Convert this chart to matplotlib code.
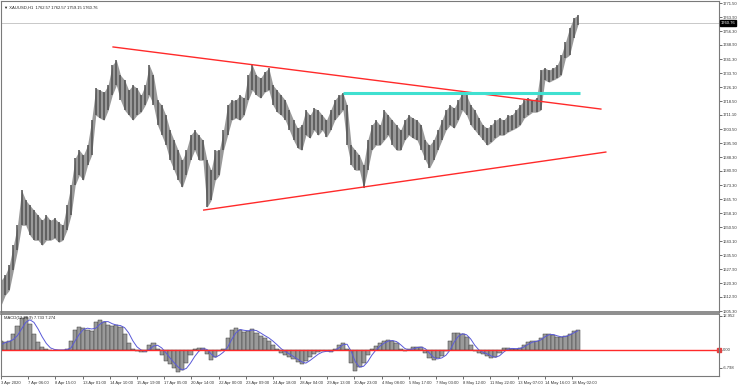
import matplotlib
matplotlib.use("Agg")
import matplotlib.pyplot as plt
import numpy as np

plt.rcParams["font.family"] = ["Liberation Sans", "DejaVu Sans"]

# ---------------- data ----------------
# Price samples (one every 5 H1 bars): high / low
bar_step = 5
highs = [1621.9, 1624.6, 1630.0, 1640.8, 1651.6, 1670.5, 1665.1, 1662.4, 1659.7, 1657.0,
         1654.3, 1657.0, 1654.3, 1655.4, 1653.2, 1651.6, 1662.4, 1673.2, 1687.8, 1692.1,
         1689.4, 1694.8, 1708.3, 1725.6, 1724.5, 1723.4, 1727.2, 1738.0, 1740.7, 1732.6,
         1729.9, 1724.5, 1727.2, 1725.6, 1721.8, 1727.2, 1738.0, 1732.6, 1719.1, 1716.4,
         1711.0, 1702.9, 1697.5, 1692.1, 1686.7, 1692.1, 1700.2, 1702.9, 1700.2, 1697.5,
         1686.7, 1681.3, 1692.1, 1692.1, 1702.9, 1716.4, 1719.1, 1719.1, 1721.8, 1720.2,
         1732.6, 1738.0, 1732.6, 1731.0, 1734.3, 1736.4, 1727.2, 1724.5, 1721.8, 1719.1,
         1713.7, 1708.3, 1704.0, 1705.6, 1713.7, 1711.0, 1714.8, 1713.7, 1711.0, 1708.3,
         1713.7, 1719.1, 1721.8, 1722.9, 1716.4, 1694.8, 1692.1, 1689.4, 1684.0, 1697.5,
         1705.6, 1708.3, 1705.6, 1713.7, 1711.0, 1708.3, 1705.6, 1702.9, 1708.3, 1711.0,
         1709.4, 1708.3, 1705.6, 1697.5, 1694.8, 1697.5, 1702.9, 1708.3, 1713.7, 1716.4,
         1714.8, 1719.1, 1723.4, 1721.8, 1716.4, 1713.7, 1709.4, 1705.6, 1704.0, 1705.6,
         1708.3, 1709.4, 1708.3, 1711.0, 1711.0, 1713.7, 1716.4, 1719.1, 1720.2, 1719.1,
         1720.2, 1735.3, 1736.4, 1735.3, 1736.4, 1738.0, 1743.4, 1750.4, 1758.0, 1763.4,
         1765.0]
lows = [1608.4, 1613.8, 1616.5, 1627.3, 1638.1, 1651.6, 1651.6, 1646.2, 1643.5, 1643.5,
        1640.8, 1643.5, 1643.5, 1644.6, 1642.4, 1643.5, 1648.9, 1657.0, 1673.2, 1678.6,
        1675.9, 1684.0, 1689.4, 1711.0, 1709.4, 1708.3, 1713.7, 1721.8, 1727.2, 1719.1,
        1713.7, 1711.0, 1708.3, 1711.0, 1712.6, 1716.4, 1721.8, 1716.4, 1705.6, 1700.2,
        1694.8, 1686.7, 1681.3, 1675.9, 1672.1, 1678.6, 1686.7, 1692.1, 1686.7, 1686.7,
        1661.3, 1665.1, 1675.9, 1678.6, 1692.1, 1700.2, 1708.3, 1709.4, 1708.3, 1711.0,
        1719.1, 1724.5, 1721.8, 1720.2, 1723.4, 1724.5, 1716.4, 1712.6, 1711.0, 1708.3,
        1702.9, 1697.5, 1693.2, 1692.1, 1700.2, 1698.6, 1702.9, 1700.2, 1702.9, 1699.1,
        1702.9, 1708.3, 1711.0, 1713.7, 1694.8, 1684.0, 1681.3, 1681.3, 1671.6, 1681.3,
        1692.1, 1694.8, 1694.8, 1697.5, 1700.2, 1694.8, 1692.1, 1692.1, 1697.5, 1700.2,
        1698.6, 1697.5, 1692.1, 1686.7, 1682.4, 1686.7, 1692.1, 1697.5, 1702.9, 1705.6,
        1704.0, 1708.3, 1713.7, 1711.0, 1705.6, 1702.9, 1700.2, 1697.5, 1694.8, 1696.4,
        1698.6, 1700.2, 1700.2, 1701.8, 1702.9, 1704.0, 1705.6, 1709.4, 1711.0, 1712.6,
        1712.6, 1713.7, 1729.9, 1728.8, 1729.9, 1731.0, 1732.6, 1741.8, 1743.4, 1752.6,
        1759.6]

# MACD histogram and signal line (same sampling)
macd_hist = [3.4, 3.0, 3.5, 6.0, 9.0, 12.2, 12.4, 10.0, 6.0, 3.0,
             1.2, 0.3, 0.1, 0.1, 0.0, 0.1, 0.2, 3.5, 7.5, 8.8,
             8.5, 7.8, 7.2, 10.5, 11.4, 10.8, 9.5, 9.0, 9.6, 8.8,
             6.0, 2.5, 0.3, -0.5, -0.8, -0.6, 2.0, 2.6, 0.5, -2.0,
             -4.0, -5.5, -7.0, -8.2, -7.8, -5.0, -2.0, 0.3, 0.8, 0.7,
             -1.5, -3.8, -2.5, -0.5, 0.5, 4.5, 7.8, 8.4, 7.5, 6.8,
             7.2, 8.0, 6.5, 5.2, 4.6, 3.5, 2.0, 0.3, -1.0, -1.8,
             -2.8, -3.5, -4.5, -5.5, -4.0, -2.5, -1.5, -0.6, -0.2, -0.4,
             -0.6, 0.5, 2.0, 2.8, 0.5, -5.0, -8.0, -6.5, -5.0, -2.0,
             0.5, 1.5, 2.5, 3.6, 3.8, 3.5, 2.5, 0.5, -0.5, 0.3,
             1.0, 1.2, 1.0, -1.0, -3.0, -3.8, -3.2, -2.2, -0.5, 3.5,
             6.3, 6.4, 6.2, 5.0, 2.0, -0.5, -1.0, -1.4, -2.2, -3.0,
             -2.8, -1.0, 0.8, 0.6, 0.3, 0.5, 0.8, 2.0, 3.0, 3.5,
             3.3, 4.5, 6.2, 6.0, 5.6, 5.0, 4.8, 5.5, 6.2, 7.2,
             7.7]
macd_signal = [2.0, 2.8, 3.2, 4.0, 5.5, 8.0, 10.5, 11.5, 10.5, 8.0,
               5.0, 2.5, 0.8, 0.2, 0.0, 0.0, 0.1, 0.8, 3.5, 6.0,
               7.8, 8.3, 8.0, 8.3, 9.8, 10.8, 10.8, 10.0, 9.5, 9.3,
               8.5, 6.5, 3.5, 1.2, 0.0, -0.5, 0.2, 1.5, 1.8, 0.8,
               -1.0, -3.0, -4.8, -6.5, -7.6, -7.0, -5.0, -2.5, -0.5, 0.5,
               0.2, -1.5, -2.8, -2.0, -0.8, 1.0, 4.0, 6.5, 7.8, 7.5,
               7.3, 7.6, 7.4, 6.5, 5.5, 4.6, 3.4, 2.0, 0.5, -0.6,
               -1.5, -2.5, -3.5, -4.5, -5.0, -4.0, -2.8, -1.6, -0.8, -0.5,
               -0.5, -0.2, 0.8, 2.0, 2.2, -0.5, -4.5, -6.5, -6.2, -4.5,
               -2.0, 0.0, 1.5, 2.6, 3.4, 3.6, 3.2, 2.0, 0.6, 0.0,
               0.4, 0.9, 1.1, 0.5, -1.2, -2.8, -3.4, -3.0, -2.0, 0.0,
               3.0, 5.2, 6.2, 5.8, 4.2, 1.8, 0.0, -0.9, -1.5, -2.3,
               -2.8, -2.2, -0.8, 0.3, 0.6, 0.5, 0.6, 1.2, 2.2, 3.0,
               3.3, 3.8, 5.0, 5.8, 5.9, 5.4, 5.0, 5.1, 5.7, 6.5,
               7.3]

# Drawn objects (bar index, price)
upper_line_bars = [136, 728]
upper_line_prices = [1747.8, 1714.3]
lower_line_bars = [246, 734]
lower_line_prices = [1659.8, 1691.1]
level_bars = [415, 703]
level_price = 1722.9
current_price = 1760.76

price_ticks = [1771.50, 1763.90, 1756.30, 1748.90, 1741.30, 1733.70, 1726.10, 1718.50,
               1711.10, 1703.50, 1695.90, 1688.30, 1680.90, 1673.30, 1665.70, 1658.10,
               1650.50, 1643.10, 1635.50, 1627.90, 1620.30, 1612.90, 1605.30]
macd_ticks = [12.952, 0.0, -6.798]
macd_tick_labels = ["12.952", "0.00", "-6.798"]

time_labels = ["3 Apr 2020", "7 Apr 06:00", "8 Apr 15:00", "13 Apr 01:00", "14 Apr 10:00",
               "15 Apr 19:00", "17 Apr 05:00", "20 Apr 14:00", "22 Apr 00:00", "23 Apr 09:00",
               "24 Apr 18:00", "28 Apr 04:00", "29 Apr 13:00", "30 Apr 23:00", "4 May 08:00",
               "5 May 17:00", "7 May 03:00", "8 May 12:00", "11 May 22:00", "13 May 07:00",
               "14 May 16:00", "18 May 02:00"]
time_label_step = 33  # bars between labels

header = "XAUUSD,H1  1762.57 1762.57 1759.15 1760.76"
macd_header = "MACD(12,26,9) 7.733 7.274"

# ---------------- figure ----------------
W, H = 740, 387
fig = plt.figure(figsize=(W / 100, H / 100), dpi=100)
fig.patch.set_facecolor("white")

def fx(px):
    return px / W

def fy(py):
    return 1 - py / H

right_px = 719
ax = fig.add_axes([fx(1), fy(312), fx(right_px - 1), (312 - 1) / H])
axm = fig.add_axes([fx(1), fy(376), fx(right_px - 1), (376 - 314) / H])

px_per_bar = 0.824
xmax = (right_px - 1) / px_per_bar
fs = 3.0

n = len(highs)
xs = np.arange(n) * bar_step

# price
ax.fill_between(xs, lows, highs, color="#9a9a9a", lw=0)
ax.vlines(xs, lows, highs, colors="#505050", linewidth=1.1)
ax.plot(upper_line_bars, upper_line_prices, color="#ff2a2a", lw=1.0)
ax.plot(lower_line_bars, lower_line_prices, color="#ff2a2a", lw=1.0)
ax.plot(level_bars, [level_price, level_price], color="#40e0d0", lw=2.2, solid_capstyle="butt")
ax.axhline(current_price, color="#c8c8c8", lw=0.7, zorder=0)

ax.set_xlim(0, xmax)
ax.set_ylim(1604.8, 1772.6)
ax.yaxis.tick_right()
ax.set_yticks(price_ticks)
ax.set_yticklabels([f"{v:.2f}" for v in price_ticks])
ax.tick_params(axis="y", labelsize=fs, length=2, width=0.5, pad=0.8, colors="#333333")
ax.set_xticks([])
for s in ["top", "left", "bottom", "right"]:
    ax.spines[s].set_color("#7a7a7a")
    ax.spines[s].set_linewidth(0.8)
ax.spines["bottom"].set_linewidth(1.2)

ax.text(1.002, current_price, f"{current_price:.2f}", transform=ax.get_yaxis_transform(),
        fontsize=fs, color="white", va="center", ha="left",
        bbox=dict(boxstyle="square,pad=0.15", fc="black", ec="black"))
ax.text(0.004, 0.987, "\u25bc " + header, transform=ax.transAxes, fontsize=fs,
        color="#222222", va="top", ha="left")

# MACD
axm.bar(xs, macd_hist, width=bar_step, color="#9a9a9a", edgecolor="#3c3c3c", linewidth=0.35)
axm.plot(xs, macd_signal, color="#5a5ad8", lw=0.7)
axm.axhline(0, color="#ff2a2a", lw=1.0)
axm.set_xlim(0, xmax)
axm.set_ylim(-9.9, 13.7)
axm.yaxis.tick_right()
axm.set_yticks(macd_ticks)
axm.set_yticklabels(macd_tick_labels)
axm.tick_params(axis="y", labelsize=fs, length=2, width=0.5, pad=0.8, colors="#333333")
tick_pos = np.arange(len(time_labels)) * time_label_step
axm.set_xticks(tick_pos)
axm.set_xticklabels(time_labels)
axm.tick_params(axis="x", labelsize=fs, length=2, width=0.5, pad=1.5, colors="#333333")
for lbl in axm.get_xticklabels():
    lbl.set_horizontalalignment("left")
for s in ["top", "left", "bottom", "right"]:
    axm.spines[s].set_color("#7a7a7a")
    axm.spines[s].set_linewidth(0.8)
axm.spines["top"].set_linewidth(1.2)
axm.text(0.004, 0.97, macd_header, transform=axm.transAxes, fontsize=fs,
         color="#222222", va="top", ha="left")
axm.plot([1.0], [0.0], marker="s", markersize=3.0, color="#e04040",
         transform=axm.get_yaxis_transform(), clip_on=False)

fig.savefig("out.png", dpi=100, facecolor="white")
